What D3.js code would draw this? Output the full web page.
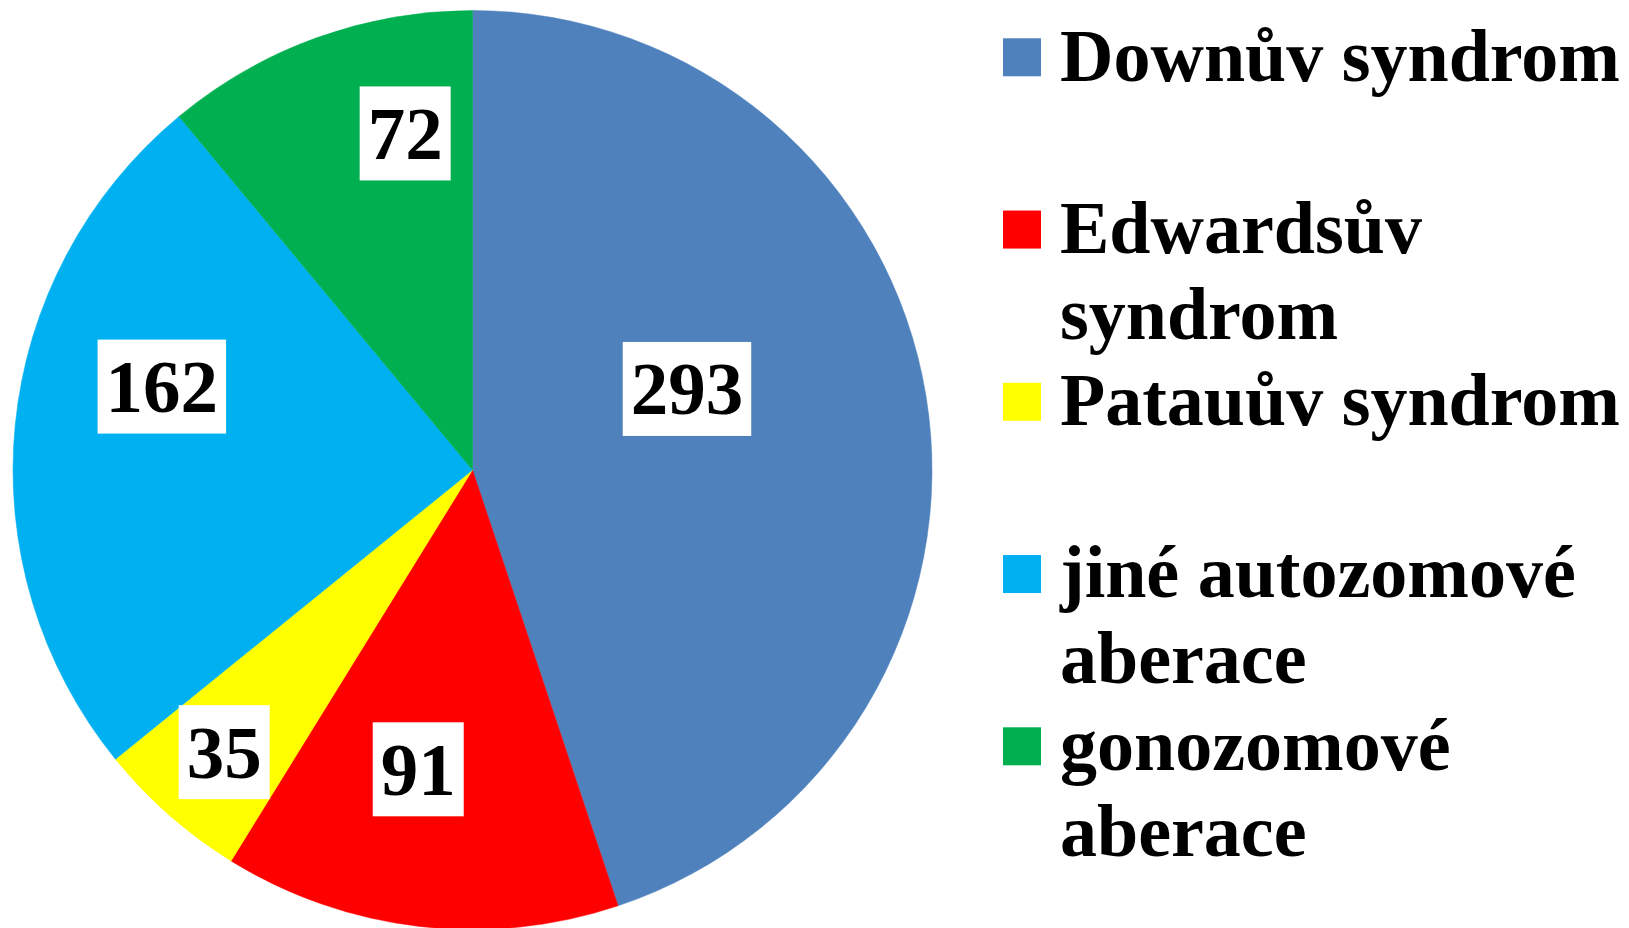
<!DOCTYPE html>
<html>
<head>
<meta charset="utf-8">
<script src="https://cdn.jsdelivr.net/npm/d3@7"></script>
<style>
  html, body { margin: 0; padding: 0; background: #fff; }
  text { font-family: "Liberation Serif", "Times New Roman", serif; font-weight: bold; }
</style>
</head>
<body>
<div id="chart"></div>
<script>
// data
const categories = ['Downův syndrom', 'Edwardsův syndrom', 'Patauův syndrom', 'jiné autozomové aberace', 'gonozomové aberace'];
const legendLines = [['Downův syndrom'], ['Edwardsův', 'syndrom'], ['Patauův syndrom'], ['jiné autozomové', 'aberace'], ['gonozomové', 'aberace']];
const values = [293, 91, 35, 162, 72];
const colors = ['#4F81BD', '#FF0000', '#FFFF00', '#00B0F0', '#00B050'];

// where each value label sits: fraction along the slice, fraction of radius
const labelPlace = [[0.429, 0.499], [0.573, 0.662], [0.5, 0.818], [0.605, 0.70], [0.715, 0.747]];

const width = 1629;
const height = 928;
const cx = 472.5, cy = 470, radius = 459.5;
const fontSize = 75;
const legendFont = 74;

const svg = d3.select('#chart').append('svg')
  .attr('width', width)
  .attr('height', height);

const pie = d3.pie().sort(null).value(d => d);
const arcs = pie(values);
const arc = d3.arc().innerRadius(0).outerRadius(radius);

const g = svg.append('g').attr('transform', `translate(${cx}, ${cy})`);

g.selectAll('path.slice')
  .data(arcs)
  .join('path')
  .attr('class', 'slice')
  .attr('d', arc)
  .attr('fill', (d, i) => colors[i])
  .attr('stroke', (d, i) => colors[i])
  .attr('stroke-width', 0.5);

// value labels with white boxes
const labels = g.selectAll('g.label')
  .data(arcs)
  .join('g')
  .attr('class', 'label')
  .attr('transform', (d, i) => {
    const a = d.startAngle + labelPlace[i][0] * (d.endAngle - d.startAngle);
    const p = d3.pointRadial(a, radius * labelPlace[i][1]);
    return `translate(${p[0]}, ${p[1]})`;
  });

labels.each(function(d) {
  const sel = d3.select(this);
  const t = sel.append('text')
    .attr('text-anchor', 'middle')
    .attr('y', fontSize * 0.34)
    .attr('font-size', fontSize)
    .attr('fill', '#000')
    .text(d.data);
  const w = t.node().getComputedTextLength() + 16;
  sel.insert('rect', 'text')
    .attr('x', -w / 2)
    .attr('y', -47)
    .attr('width', w)
    .attr('height', 94)
    .attr('fill', '#fff');
});

// legend
const legendX = 1003, legendY = 38.3, entryStep = 172.25, lineStep = 86;
const legend = svg.append('g');
const items = legend.selectAll('g.item')
  .data(categories)
  .join('g')
  .attr('class', 'item')
  .attr('transform', (d, i) => `translate(${legendX}, ${legendY + i * entryStep})`);

items.append('rect')
  .attr('width', 38)
  .attr('height', 38)
  .attr('fill', (d, i) => colors[i]);

items.append('text')
  .attr('x', 57)
  .attr('font-size', legendFont)
  .attr('fill', '#000')
  .selectAll('tspan')
  .data((d, i) => legendLines[i])
  .join('tspan')
  .attr('x', 57)
  .attr('y', (d, j) => 42.4 + j * lineStep)
  .text(d => d);
</script>
</body>
</html>
